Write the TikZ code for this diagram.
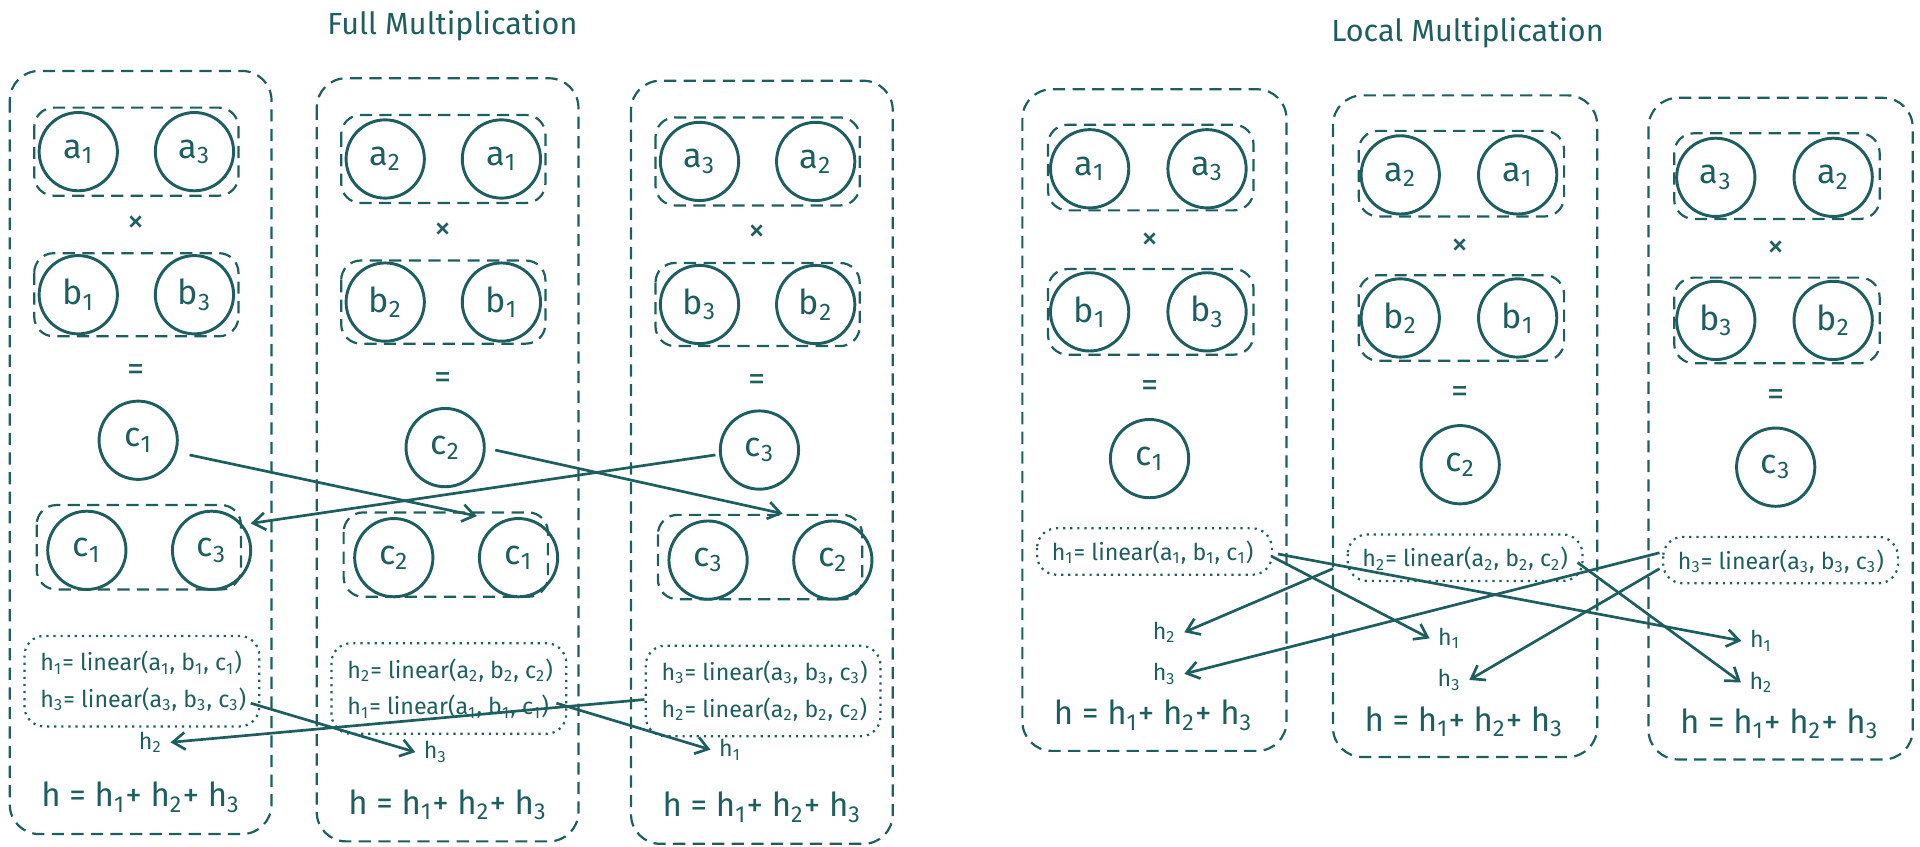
\documentclass[tikz,border=0pt]{standalone}
\usepackage{fontspec}
\usetikzlibrary{arrows.meta}
\setmainfont{Fira Sans}
\definecolor{tl}{HTML}{1E5E5E}
\newcommand\sbs[1]{\textsubscript{#1}}
\newcommand\fpanel[8]{%
 \begin{scope}[shift={(#2,#3)}]
 \draw[pbox] (8,58) rectangle (222,682);
 \draw[dbox] (28,88) rectangle (195,160);
 \node[cir] (#1a1) at (64,124) {a\sbs{#4}};
 \node[cir] (#1a2) at (159,124) {a\sbs{#5}};
 \node[sym] (#1x) at (111,183) {×};
 \draw[dbox] (28,207) rectangle (195,275);
 \node[cir] (#1b1) at (64,241) {b\sbs{#4}};
 \node[cir] (#1b2) at (159,241) {b\sbs{#5}};
 \node[sym] (#1eq) at (111,305) {=};
 \node[cir] (#1c) at (113,360) {c\sbs{#4}};
 \draw[dbox] (30,413) rectangle (197,482);
 \node[cir] (#1c1) at (71,450) {c\sbs{#4}};
 \node[cir] (#1c2) at (173,450) {c\sbs{#5}};
 \draw[obox] (20,520) rectangle (212,594);
 \node[lin,anchor=west] (#1l1) at (26,542) {h\sbs{#4}= linear(a\sbs{#4}, b\sbs{#4}, c\sbs{#4})};
 \node[lin,anchor=west] (#1l2) at (26,572) {h\sbs{#5}= linear(a\sbs{#5}, b\sbs{#5}, c\sbs{#5})};
 \node[hl] (#1h) at (#6,#7) {h\sbs{#8}};
 \node[sum] (#1s) at (115,652) {h = h\sbs{1}+ h\sbs{2}+ h\sbs{3}};
 \end{scope}}
\newcommand\lpanel[8]{%
 \begin{scope}[shift={(#2,#3)}]
 \draw[pbox] (836,73) rectangle (1052,614);
 \draw[dbox] (857,102) rectangle (1025,172);
 \node[cir] (#1a1) at (891,138) {a\sbs{#4}};
 \node[cir] (#1a2) at (987,138) {a\sbs{#5}};
 \node[sym] (#1x) at (940,197) {×};
 \draw[dbox] (857,220) rectangle (1025,290);
 \node[cir] (#1b1) at (891,255) {b\sbs{#4}};
 \node[cir] (#1b2) at (987,255) {b\sbs{#5}};
 \node[sym] (#1eq) at (940,318) {=};
 \node[cir] (#1c) at (940,375) {c\sbs{#4}};
 \draw[obox] (848,432) rectangle (1040,470);
 \node[lin,anchor=west] (#1l) at (853,452) {h\sbs{#4}= linear(a\sbs{#4}, b\sbs{#4}, c\sbs{#4})};
 \node[hl] (#1h1) at (#6,517) {h\sbs{#7}};
 \node[hl] (#1h2) at (#6,551) {h\sbs{#8}};
 \node[sum] (#1s) at (943,585) {h = h\sbs{1}+ h\sbs{2}+ h\sbs{3}};
 \end{scope}}
\begin{document}
\begin{tikzpicture}[x=0.5pt,y=-0.5pt,
  every node/.style={text=tl},
  cir/.style={draw=tl,line width=1.2pt,circle,minimum size=32pt,inner sep=0pt,font=\fontsize{14}{14}\selectfont},
  dbox/.style={draw=tl,line width=0.9pt,dash pattern=on 5pt off 3pt,rounded corners=8pt},
  pbox/.style={draw=tl,line width=0.9pt,dash pattern=on 5pt off 3pt,rounded corners=12pt},
  obox/.style={draw=tl,line width=0.9pt,dotted,rounded corners=8pt},
  sym/.style={font=\fontsize{14}{14}\selectfont},
  lin/.style={font=\fontsize{9.5}{9.5}\selectfont},
  hl/.style={font=\fontsize{9.5}{9.5}\selectfont},
  sum/.style={font=\fontsize{13.5}{13.5}\selectfont},
  arr/.style={draw=tl,line width=1.1pt,-{Straight Barb[length=5pt,width=7pt]}}]
\node[font=\fontsize{12.5}{12.5}\selectfont] (t1) at (370,21) {Full Multiplication};
\node[font=\fontsize{12.5}{12.5}\selectfont] (t2) at (1200,27) {Local Multiplication};
\fpanel{p}{0}{0}{1}{3}{123}{607}{2}
\fpanel{q}{251}{6}{2}{1}{105}{609}{3}
\fpanel{r}{508}{8}{3}{2}{89}{605}{1}
\draw[arr] (155,372) -- (390,422);
\draw[arr] (405,368) -- (640,420);
\draw[arr] (585,372) -- (205,428);
\draw[arr] (205,575) -- (qh.west);
\draw[arr] (455,575) -- (rh.west);
\draw[arr] (527,572) -- (ph.east);
\lpanel{u}{0}{0}{1}{3}{952}{2}{3}
\lpanel{v}{254}{5}{2}{1}{931}{1}{3}
\lpanel{w}{512}{7}{3}{2}{928}{1}{2}
\draw[arr] (1040,455) -- (vh1.west);
\draw[arr] (1045,453) -- (wh1.west);
\draw[arr] (1090,465) -- (uh1.east);
\draw[arr] (1290,460) -- (wh2.west);
\draw[arr] (1357,452) -- (uh2.east);
\draw[arr] (1357,465) -- (vh2.east);
\pgfresetboundingbox
\path[use as bounding box] (0,0) rectangle (1570,692);
\end{tikzpicture}
\end{document}
